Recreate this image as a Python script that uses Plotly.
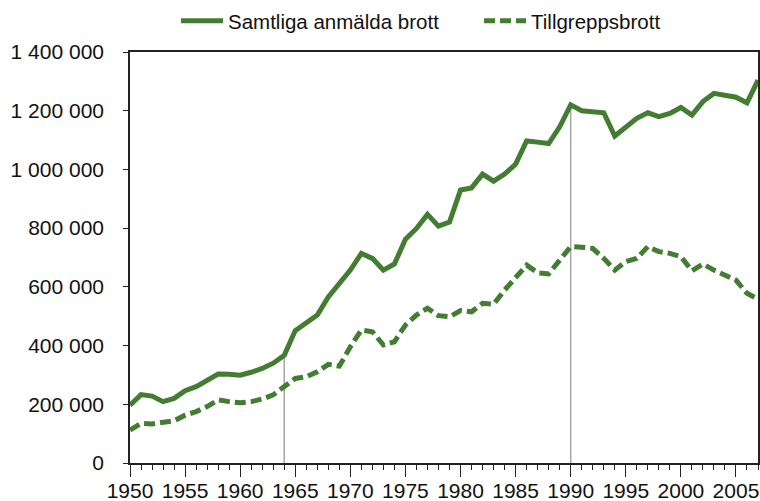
import plotly.graph_objects as go

# Anmälda brott i Sverige 1950-2007
years = list(range(1950, 2008))

samtliga = [
    197000, 233000, 228000, 209000, 220000, 246000, 260000, 283000, 303000, 302000,
    299000, 309000, 322000, 340000, 367000, 451000, 476000, 504000, 566000, 612000,
    657000, 714000, 697000, 657000, 678000, 762000, 799000, 847000, 807000, 821000,
    930000, 937000, 984000, 960000, 984000, 1018000, 1097000, 1093000, 1088000, 1145000,
    1220000, 1200000, 1197000, 1193000, 1114000, 1146000, 1174000, 1193000, 1180000, 1191000,
    1211000, 1185000, 1231000, 1259000, 1252000, 1246000, 1227000, 1304000,
]

tillgrepp = [
    112000, 135000, 133000, 137000, 144000, 163000, 175000, 192000, 215000, 209000,
    205000, 209000, 218000, 232000, 258000, 288000, 294000, 311000, 336000, 330000,
    396000, 453000, 447000, 402000, 413000, 470000, 504000, 527000, 502000, 498000,
    519000, 515000, 544000, 541000, 589000, 629000, 674000, 648000, 644000, 691000,
    737000, 735000, 731000, 697000, 657000, 686000, 697000, 737000, 720000, 714000,
    703000, 655000, 678000, 657000, 640000, 623000, 578000, 558000,
]

marked_years = [1964, 1990]

y_ticks = [0, 200000, 400000, 600000, 800000, 1000000, 1200000, 1400000]
y_labels = ["0", "200 000", "400 000", "600 000", "800 000", "1 000 000", "1 200 000", "1 400 000"]

green = "#437D31"

fig = go.Figure()

# grå markeringslinjer upp till kurvan
for yr in marked_years:
    fig.add_shape(type="line", x0=yr, x1=yr, y0=0, y1=samtliga[years.index(yr)],
                  xref="x", yref="y", line=dict(color="#A6A6A6", width=1.5), layer="below")

fig.add_trace(go.Scatter(x=years, y=samtliga, mode="lines", name="Samtliga anmälda brott",
                         line=dict(color=green, width=5)))
fig.add_trace(go.Scatter(x=years, y=tillgrepp, mode="lines", name="Tillgreppsbrott",
                         line=dict(color=green, width=5, dash="11px,5px")))

fig.update_layout(
    width=760, height=501,
    margin=dict(l=130, r=2, t=52, b=38),
    plot_bgcolor="white", paper_bgcolor="white",
    font=dict(family="Liberation Sans", size=21, color="#111111"),
    showlegend=True,
    legend=dict(orientation="h", xref="container", x=0.2316, xanchor="left",
                yref="container", y=0.958, yanchor="middle",
                font=dict(size=20.5), itemwidth=42, entrywidth=246, tracegroupgap=0,
                bgcolor="rgba(0,0,0,0)"),
)

fig.update_xaxes(
    range=[1950, 2007], tickmode="linear", tick0=1950, dtick=5,
    ticks="outside", ticklen=12, tickcolor="#222222", tickwidth=1,
    minor=dict(dtick=1, ticks="outside", ticklen=5, tickcolor="#222222", tickwidth=1),
    showline=True, linecolor="#222222", linewidth=1.5, mirror=True,
    showgrid=False, zeroline=False, tickfont=dict(size=21),
    automargin=False, ticklabelstandoff=-4,
)
fig.update_yaxes(
    range=[0, 1400000], tickmode="array", tickvals=y_ticks, ticktext=y_labels,
    ticks="outside", ticklen=5, tickcolor="#222222", ticklabelstandoff=15,
    showline=True, linecolor="#222222", linewidth=1.5, mirror=True,
    showgrid=False, zeroline=False, tickfont=dict(size=21),
    automargin=False,
)

# ta bort sidans standardmarginal så att figuren fyller fönstret
fig.write_html("out.html", config={"displayModeBar": False},
               post_script="document.body.style.margin='0';document.body.style.overflow='hidden';")
